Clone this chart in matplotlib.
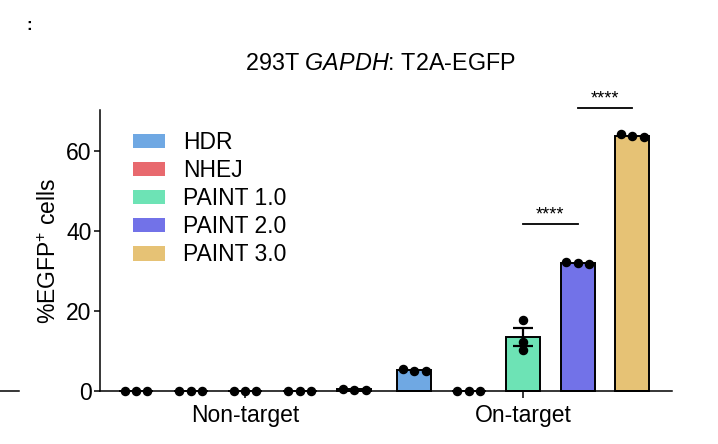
import numpy as np
import matplotlib
matplotlib.use("Agg")
import matplotlib.pyplot as plt
from matplotlib.patches import Patch
from matplotlib.lines import Line2D

plt.rcParams['font.family'] = ['Liberation Sans', 'DejaVu Sans']
plt.rcParams['mathtext.fontset'] = 'custom'
plt.rcParams['mathtext.rm'] = 'Liberation Sans'
plt.rcParams['mathtext.it'] = 'Liberation Sans:italic'

# ---- data ----
groups = ["Non-target", "On-target"]
series = ["HDR", "NHEJ", "PAINT 1.0", "PAINT 2.0", "PAINT 3.0"]
colors = ["#6FA8E3", "#E8696E", "#6DE3B5", "#7272E8", "#E6C275"]

nontarget_reps = [
    [0.1, 0.1, 0.1],
    [0.1, 0.1, 0.1],
    [0.1, 0.1, 0.1],
    [0.1, 0.1, 0.1],
    [0.6, 0.3, 0.3],
]
ontarget_reps = [
    [5.5, 5.1, 5.1],
    [0.1, 0.1, 0.1],
    [17.8, 12.2, 10.2],
    [32.2, 32.1, 31.8],
    [64.2, 63.7, 63.5],
]
sig_pairs = [(2, 3, 41.8, "****"), (3, 4, 70.8, "****")]

# ---- figure ----
fig = plt.figure(figsize=(7.18, 4.44), dpi=100)
ax = fig.add_axes([100/718, 1-391/444, (672-100)/718, (391-110)/444])

group_offsets = [0.0, 5.1]
bar_w = 34/54.5
jit = 0.21

for gi, reps_all in enumerate([nontarget_reps, ontarget_reps]):
    for si, reps in enumerate(reps_all):
        x = group_offsets[gi] + si
        reps = np.array(reps)
        m = reps.mean()
        sem = reps.std(ddof=1)/np.sqrt(len(reps))
        ax.bar(x, m, width=bar_w, color=colors[si], edgecolor="black",
               linewidth=1.4, zorder=2, clip_on=False)
        if sem > 0.5:
            ax.errorbar(x, m, yerr=sem, color="black", capsize=7,
                        elinewidth=1.6, capthick=1.6, zorder=3, clip_on=False)
            offs = np.zeros(3)
        else:
            offs = np.array([-jit, 0, jit])
        ax.scatter(x + offs, reps, s=34, color="black",
                   zorder=4, clip_on=False)

# significance
for a, b, y, txt in sig_pairs:
    xa = group_offsets[1] + a
    xb = group_offsets[1] + b
    ax.plot([xa, xb], [y, y], color="black", lw=1.3, clip_on=False)
    ax.text((xa+xb)/2, y + 0.2, txt, ha="center", va="bottom", fontsize=13)

ax.set_xlim(-0.66, group_offsets[1] + 4 + 0.73)
ax.set_ylim(0, 70.25)
ax.set_yticks([0, 20, 40, 60])
ax.set_xticks([group_offsets[0] + 2, group_offsets[1] + 2])
ax.set_xticklabels(groups)
for s in ["top", "right"]:
    ax.spines[s].set_visible(False)
for s in ["left", "bottom"]:
    ax.spines[s].set_linewidth(1.1)
ax.tick_params(axis="y", length=4, width=1.1, pad=2, labelsize=16.5)
ax.tick_params(axis="x", length=5, width=1.1, pad=4, labelsize=16.5)
ax.set_ylabel("%EGFP$^{+}$ cells", fontsize=16.5, labelpad=3.5)

fig.text(380/718, 1-63/444, "293T $\\mathit{GAPDH}$: T2A-EGFP", ha="center",
         va="center", fontsize=16.8)

handles = [Patch(facecolor=c, edgecolor="none") for c in colors]
ax.legend(handles, series, loc="upper left", bbox_to_anchor=(133/718, 1-131/444),
          bbox_transform=fig.transFigure, frameon=False, fontsize=16.5,
          handlelength=1.4, handleheight=0.62, handletextpad=0.8,
          labelspacing=0.22, borderpad=0, borderaxespad=0)

# stray fragments from neighbouring panel
fig.add_artist(Line2D([0, 19/718], [1-391/444, 1-391/444], color="black", lw=1.1))
fig.text(29/718, 1-25/444, ":", ha="center", va="center", fontsize=12,
         fontweight="bold")

fig.savefig("out.png", dpi=100)
